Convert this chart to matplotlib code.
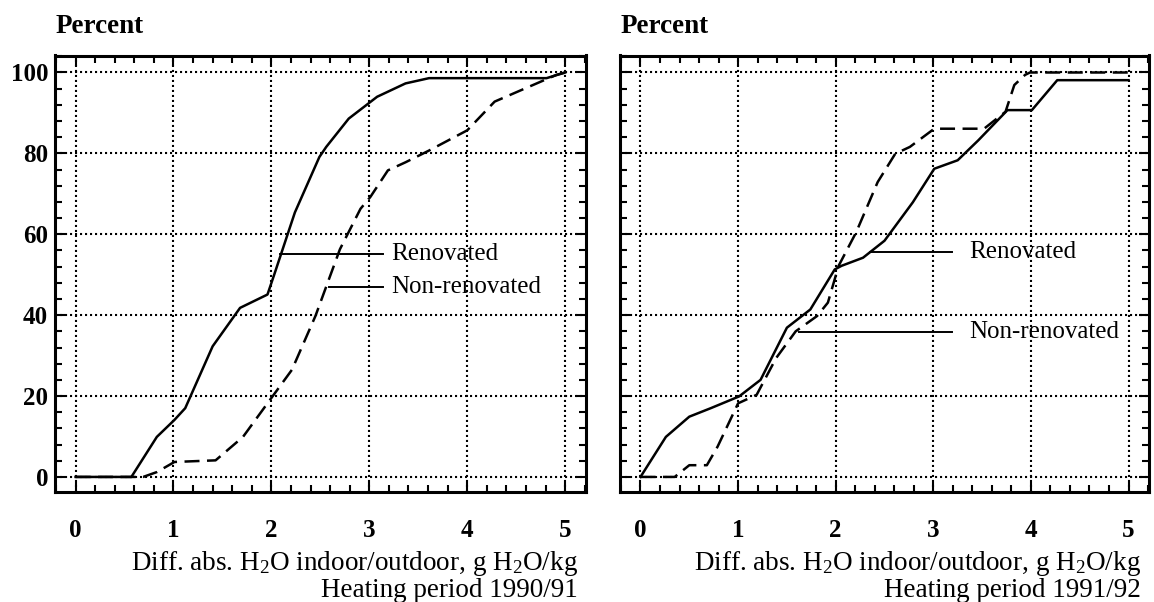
import matplotlib
matplotlib.use("Agg")
import matplotlib.pyplot as plt
from matplotlib.ticker import MultipleLocator

plt.rcParams['font.family'] = ['Liberation Serif', 'DejaVu Serif']
plt.rcParams['mathtext.fontset'] = 'custom'
plt.rcParams['mathtext.rm'] = 'Liberation Serif'
plt.rcParams['mathtext.it'] = 'Liberation Serif:italic'
plt.rcParams['mathtext.bf'] = 'Liberation Serif:bold'

# ---- data: 1990/91 ----
ren91_x = [0, 0.57, 0.83, 1.01, 1.12, 1.40, 1.68, 1.96, 2.03, 2.24, 2.49, 2.56, 2.79, 3.08, 3.37, 3.61, 4.81, 5.0]
ren91_y = [0, 0, 9.9, 14.1, 17.0, 32.3, 41.8, 45.1, 50.1, 65.4, 79.1, 81.6, 88.6, 94.0, 97.3, 98.6, 98.6, 100]
non91_x = [0, 0.69, 0.83, 1.01, 1.43, 1.71, 1.96, 2.21, 2.45, 2.70, 2.91, 3.01, 3.19, 3.37, 3.61, 4.00, 4.28, 4.91, 5.0]
non91_y = [0, 0, 1.2, 3.7, 4.1, 9.9, 18.2, 26.5, 39.8, 56.3, 66.3, 69.2, 75.8, 77.8, 80.7, 85.7, 92.8, 99.4, 100]

# ---- data: 1991/92 ----
ren92_x = [0, 0.26, 0.50, 0.72, 1.01, 1.23, 1.50, 1.74, 1.99, 2.06, 2.28, 2.50, 2.79, 3.01, 3.25, 3.46, 3.76, 4.01, 4.27, 5.0]
ren92_y = [0, 9.9, 14.9, 17.0, 19.9, 24.0, 36.9, 41.4, 51.3, 52.2, 54.2, 58.4, 67.9, 76.2, 78.3, 83.2, 90.7, 90.7, 98.1, 98.1]
non92_x = [0, 0.35, 0.50, 0.68, 0.79, 1.00, 1.19, 1.39, 1.59, 1.81, 1.92, 2.03, 2.21, 2.43, 2.61, 2.76, 3.01, 3.52, 3.74, 3.83, 3.94, 3.99, 5.0]
non92_y = [0, 0, 2.9, 2.9, 7.5, 18.2, 20.3, 29.4, 36.0, 39.8, 43.1, 52.2, 60.5, 72.9, 79.9, 81.6, 86.1, 86.1, 90.3, 96.9, 99.4, 100, 100]

x_ticks = [0, 1, 2, 3, 4, 5]
y_ticks = [0, 20, 40, 60, 80, 100]
series_names = ["Renovated", "Non-renovated"]
periods = ["Heating period 1990/91", "Heating period 1991/92"]
# label leader lines: (x_start, x_end, y) per panel and series
leaders = [
    [(2.09, 3.14, 55.2), (2.59, 3.14, 47.0)],
    [(2.35, 3.19, 55.5), (1.62, 3.19, 35.8)],
]
label_x = [3.22, 3.37]

W, H = 1154, 602
fig = plt.figure(figsize=(W / 100, H / 100), dpi=100)

def fx(px):
    return px / W

def fy(py):
    return 1 - py / H

ax_boxes = [(55, 585.7), (620, 1149)]
top_px, bot_px = 55.5, 492.3
axes = []
for i, (l, r) in enumerate(ax_boxes):
    ax = fig.add_axes([fx(l), fy(bot_px), fx(r) - fx(l), fy(top_px) - fy(bot_px)])
    axes.append(ax)

data = [(ren91_x, ren91_y, non91_x, non91_y), (ren92_x, ren92_y, non92_x, non92_y)]
fs = 18
for i, ax in enumerate(axes):
    rx, ry, nx, ny = data[i]
    ax.set_xlim(-0.21, 5.21)
    ax.set_ylim(-3.8, 104.2)
    ax.set_xticks(x_ticks)
    ax.set_yticks(y_ticks)
    ax.xaxis.set_minor_locator(MultipleLocator(0.2))
    ax.yaxis.set_minor_locator(MultipleLocator(4))
    ax.tick_params(which='both', direction='in', top=True, right=True, width=1.5, color='black')
    ax.tick_params(which='major', length=7)
    ax.tick_params(which='minor', length=5)
    ax.tick_params(axis='x', which='major', pad=19, labelsize=fs)
    ax.tick_params(axis='y', which='major', pad=5, labelsize=fs)
    for lab in ax.get_xticklabels() + ax.get_yticklabels():
        lab.set_fontweight('bold')
    if i == 1:
        ax.tick_params(axis='y', labelleft=False)
    for s in ax.spines.values():
        s.set_linewidth(2.2)
    ax.grid(True, which='major', color='black', linestyle=(0, (1, 1.4)), linewidth=1.5)
    ax.set_axisbelow(True)
    ax.plot(rx, ry, color='black', lw=1.8, solid_joinstyle='round', zorder=3)
    ax.plot(nx, ny, color='black', lw=1.8, dashes=(6, 3), zorder=3)
    for j, (x0, x1, yy) in enumerate(leaders[i]):
        ax.plot([x0, x1], [yy, yy], color='black', lw=1.4, zorder=3)
        ax.text(label_x[i], yy, series_names[j], fontsize=fs, ha='left', va='center', zorder=4)

    l, r = ax_boxes[i]
    fig.text(fx(l + 1), fy(33), "Percent", fontsize=fs + 1.5, fontweight='bold', ha='left', va='baseline')
    fig.text(fx(r - 8), fy(570), r"Diff. abs. H$_{\rm 2}$O indoor/outdoor, g H$_{\rm 2}$O/kg",
             fontsize=fs + 1.5, ha='right', va='baseline')
    fig.text(fx(r - 8), fy(597), periods[i], fontsize=fs + 1.5, ha='right', va='baseline')

fig.savefig("out.png", dpi=100)
